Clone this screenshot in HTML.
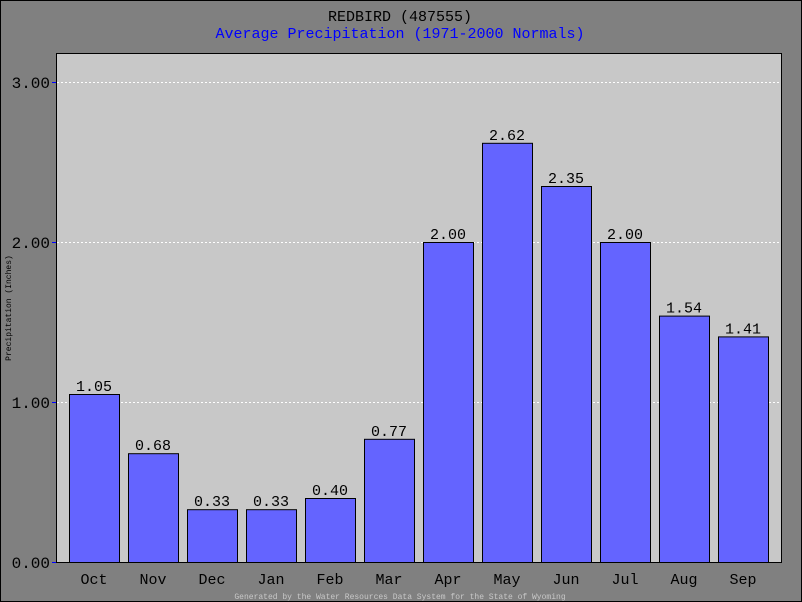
<!DOCTYPE html>
<html><head><meta charset="utf-8"><style>
body{margin:0;background:#808080;}
svg{display:block;font-family:"Liberation Mono",monospace;}
</style></head><body>
<svg width="802" height="602">
<rect x="0.5" y="0.5" width="801" height="601" fill="#808080" stroke="#000"/>
<text x="400" y="21" text-anchor="middle" font-size="15" fill="#000">REDBIRD (487555)</text>
<text x="400" y="38" text-anchor="middle" font-size="15" fill="#0000ff">Average Precipitation (1971-2000 Normals)</text>
<rect x="56.5" y="53.5" width="725" height="509" fill="#c8c8c8" stroke="#000"/>
<text transform="translate(11,308) rotate(-90)" text-anchor="middle" font-size="8" fill="#000">Precipitation (Inches)</text>
<text x="400" y="599" text-anchor="middle" font-size="8" fill="#c8c8c8">Generated by the Water Resources Data System for the State of Wyoming</text>
<g id="grid"></g><g id="bars"></g><g id="axes"></g>
</svg>
<script>
const categories=["Oct","Nov","Dec","Jan","Feb","Mar","Apr","May","Jun","Jul","Aug","Sep"];
const values=[1.05,0.68,0.33,0.33,0.40,0.77,2.00,2.62,2.35,2.00,1.54,1.41];
const ticks=[0,1,2,3];
const NS="http://www.w3.org/2000/svg";
function y(v){return 562-v*160;}
function x(i){return 69+i*59;}
function mk(t,a,p){const e=document.createElementNS(NS,t);for(const k in a)e.setAttribute(k,a[k]);p.appendChild(e);return e;}
const grid=document.getElementById('grid'),bars=document.getElementById('bars'),axes=document.getElementById('axes');
ticks.forEach(t=>{
 if(t>0){const l=mk('line',{x1:57,x2:781,y1:y(t)+0.5,y2:y(t)+0.5,stroke:'#fff','stroke-dasharray':'2,2'},grid);
 
 }
 const tk=mk('line',{x1:52,x2:56,y1:y(t)+0.5,y2:y(t)+0.5,stroke:'#0000ff'},axes);
 
 
 const tx=mk('text',{x:50,y:y(t)+6,'text-anchor':'end','font-size':'16',fill:'#000'},axes);
 tx.textContent=t.toFixed(2);
 
 
});
values.forEach((v,i)=>{
 const r=mk('rect',{x:x(i)+0.5,y:y(v)+0.5,width:50,height:562-y(v),fill:'#6464ff',stroke:'#000'},bars);
 
 
 const vl=mk('text',{x:x(i)+25,y:y(v)-3,'text-anchor':'middle','font-size':'15',fill:'#000'},bars);
 vl.textContent=v.toFixed(2);
 
 
 const cl=mk('text',{x:x(i)+25,y:584,'text-anchor':'middle','font-size':'15',fill:'#000'},axes);
 cl.textContent=categories[i];
 
 
});
</script>
</body></html>
